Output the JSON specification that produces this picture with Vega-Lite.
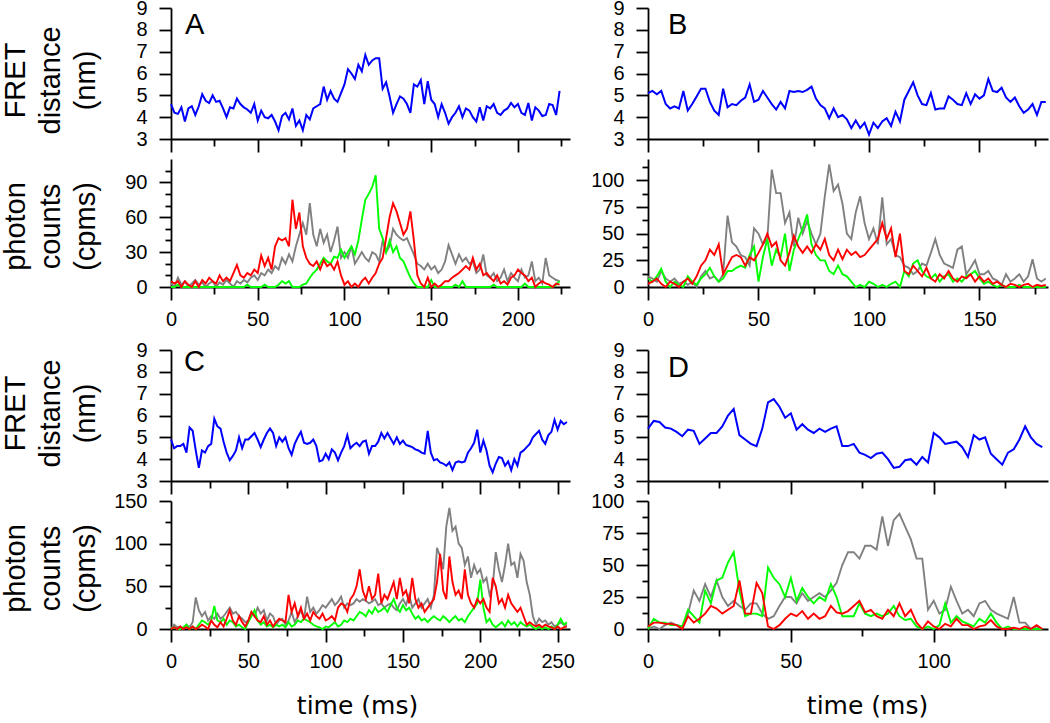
{
"$schema":"https://vega.github.io/schema/vega-lite/v6.json",
"autosize":{"type":"none"},
"padding":{"left":171,"top":8,"right":879,"bottom":715},
"columns":2,
"spacing":{"row":20,"column":78},
"bounds":"flush",
"config":{
 "view":{"stroke":null},
 "font":"Liberation Sans",
 "axis":{"grid":false,"domainColor":"black","domainWidth":1.8,"tickColor":"black","tickWidth":1.8,"labelColor":"black","labelFont":"Liberation Sans","labelFontSize":20,"labelFlush":false,"labelOverlap":false,"labelBound":false,"titleFont":"Liberation Sans","titleFontSize":29,"titleFontWeight":"normal","titleColor":"black","titleLineHeight":35},
 "title":{"font":"Liberation Sans","fontSize":29,"fontWeight":"normal","color":"black","anchor":"start","frame":"group","baseline":"alphabetic"},
 "line":{"strokeWidth":1.9,"clip":true}
},
"datasets":{
"A":[
{"t":0,"f":4.6,"r":5,"g":0,"k":3},{"t":2,"f":4.2,"r":3,"g":0,"k":0},{"t":4,"f":4.15,"r":5,"g":2,"k":8},{"t":6,"f":4.45,"r":0,"g":0,"k":2},{"t":8,"f":3.8,"r":5,"g":0,"k":5},{"t":10,"f":4.4,"r":2,"g":0,"k":0},{"t":12,"f":4.5,"r":0,"g":0,"k":3},{"t":14,"f":4.1,"r":5,"g":0,"k":6},{"t":16,"f":4.5,"r":0,"g":0,"k":2},{"t":18,"f":5.05,"r":6,"g":0,"k":4},{"t":20,"f":4.75,"r":3,"g":0,"k":0},{"t":22,"f":4.65,"r":8,"g":0,"k":3},{"t":24,"f":5.0,"r":5,"g":0,"k":5},{"t":26,"f":4.7,"r":3,"g":0,"k":0},{"t":28,"f":4.75,"r":10,"g":0,"k":4},{"t":30,"f":4.4,"r":5,"g":0,"k":2},{"t":32,"f":4.0,"r":8,"g":0,"k":6},{"t":34,"f":4.45,"r":5,"g":0,"k":3},{"t":36,"f":4.4,"r":12,"g":0,"k":0},{"t":38,"f":4.85,"r":19,"g":0,"k":5},{"t":40,"f":4.6,"r":10,"g":0,"k":3},{"t":42,"f":4.45,"r":8,"g":0,"k":6},{"t":44,"f":4.35,"r":12,"g":2,"k":4},{"t":46,"f":4.2,"r":10,"g":0,"k":8},{"t":48,"f":4.6,"r":15,"g":0,"k":10},{"t":50,"f":3.85,"r":12,"g":0,"k":6},{"t":52,"f":4.3,"r":27,"g":0,"k":12},{"t":54,"f":4.0,"r":18,"g":2,"k":10},{"t":56,"f":3.95,"r":25,"g":0,"k":15},{"t":58,"f":4.1,"r":15,"g":0,"k":12},{"t":60,"f":3.8,"r":35,"g":0,"k":18},{"t":62,"f":3.4,"r":42,"g":2,"k":15},{"t":64,"f":4.05,"r":40,"g":5,"k":25},{"t":66,"f":4.2,"r":42,"g":3,"k":20},{"t":68,"f":3.9,"r":35,"g":5,"k":28},{"t":70,"f":4.4,"r":75,"g":0,"k":22},{"t":72,"f":3.6,"r":50,"g":0,"k":35},{"t":74,"f":3.85,"r":64,"g":0,"k":45},{"t":76,"f":3.4,"r":35,"g":2,"k":55},{"t":78,"f":4.1,"r":25,"g":3,"k":45},{"t":80,"f":3.9,"r":20,"g":8,"k":72},{"t":82,"f":4.4,"r":18,"g":12,"k":45},{"t":84,"f":4.5,"r":22,"g":15,"k":35},{"t":86,"f":4.6,"r":15,"g":20,"k":50},{"t":88,"f":5.4,"r":23,"g":25,"k":38},{"t":90,"f":4.8,"r":18,"g":22,"k":45},{"t":92,"f":5.2,"r":20,"g":20,"k":30},{"t":94,"f":4.85,"r":15,"g":26,"k":40},{"t":96,"f":4.7,"r":22,"g":25,"k":52},{"t":98,"f":5.1,"r":10,"g":32,"k":25},{"t":100,"f":5.5,"r":2,"g":25,"k":30},{"t":102,"f":6.2,"r":5,"g":30,"k":25},{"t":104,"f":6.0,"r":0,"g":35,"k":35},{"t":106,"f":5.75,"r":3,"g":28,"k":20},{"t":108,"f":6.4,"r":0,"g":40,"k":25},{"t":110,"f":6.1,"r":5,"g":58,"k":30},{"t":112,"f":6.85,"r":8,"g":75,"k":25},{"t":114,"f":6.4,"r":3,"g":80,"k":22},{"t":116,"f":6.6,"r":8,"g":86,"k":30},{"t":118,"f":6.7,"r":12,"g":96,"k":28},{"t":120,"f":6.7,"r":20,"g":50,"k":22},{"t":122,"f":5.3,"r":25,"g":42,"k":40},{"t":124,"f":5.6,"r":42,"g":30,"k":30},{"t":126,"f":4.95,"r":60,"g":40,"k":35},{"t":128,"f":4.2,"r":72,"g":30,"k":50},{"t":130,"f":4.6,"r":65,"g":35,"k":45},{"t":132,"f":4.95,"r":55,"g":25,"k":42},{"t":134,"f":4.85,"r":45,"g":22,"k":40},{"t":136,"f":4.6,"r":50,"g":15,"k":42},{"t":138,"f":4.2,"r":65,"g":8,"k":35},{"t":140,"f":5.5,"r":40,"g":3,"k":28},{"t":142,"f":5.4,"r":10,"g":0,"k":20},{"t":144,"f":5.7,"r":3,"g":0,"k":18},{"t":146,"f":4.6,"r":0,"g":0,"k":15},{"t":148,"f":5.65,"r":8,"g":0,"k":20},{"t":150,"f":4.8,"r":0,"g":6,"k":15},{"t":152,"f":4.6,"r":3,"g":0,"k":18},{"t":154,"f":4.0,"r":0,"g":0,"k":12},{"t":156,"f":4.6,"r":2,"g":0,"k":15},{"t":158,"f":4.2,"r":5,"g":0,"k":22},{"t":160,"f":3.7,"r":5,"g":0,"k":36},{"t":162,"f":4.0,"r":8,"g":0,"k":28},{"t":164,"f":4.2,"r":10,"g":2,"k":20},{"t":166,"f":4.5,"r":12,"g":0,"k":28},{"t":168,"f":4.0,"r":15,"g":5,"k":22},{"t":170,"f":4.4,"r":18,"g":0,"k":25},{"t":172,"f":4.3,"r":15,"g":0,"k":20},{"t":174,"f":4.0,"r":25,"g":0,"k":22},{"t":176,"f":3.8,"r":15,"g":0,"k":12},{"t":178,"f":4.45,"r":20,"g":0,"k":15},{"t":180,"f":3.85,"r":10,"g":0,"k":28},{"t":182,"f":4.5,"r":12,"g":0,"k":10},{"t":184,"f":4.4,"r":8,"g":0,"k":8},{"t":186,"f":4.6,"r":5,"g":2,"k":12},{"t":188,"f":4.2,"r":10,"g":0,"k":5},{"t":190,"f":4.1,"r":3,"g":0,"k":8},{"t":192,"f":4.3,"r":5,"g":0,"k":15},{"t":194,"f":4.4,"r":2,"g":0,"k":5},{"t":196,"f":4.65,"r":8,"g":0,"k":12},{"t":198,"f":4.45,"r":10,"g":0,"k":8},{"t":200,"f":4.6,"r":15,"g":0,"k":5},{"t":202,"f":4.2,"r":12,"g":0,"k":15},{"t":204,"f":4.1,"r":10,"g":3,"k":8},{"t":206,"f":4.65,"r":5,"g":0,"k":10},{"t":208,"f":3.85,"r":8,"g":0,"k":22},{"t":210,"f":4.45,"r":0,"g":0,"k":5},{"t":212,"f":4.3,"r":3,"g":0,"k":8},{"t":214,"f":4.05,"r":5,"g":0,"k":3},{"t":216,"f":4.1,"r":3,"g":0,"k":25},{"t":218,"f":4.6,"r":2,"g":0,"k":10},{"t":220,"f":4.55,"r":0,"g":0,"k":8},{"t":222,"f":4.1,"r":3,"g":2,"k":6},{"t":224,"f":5.2,"r":2,"g":5,"k":5}
],
"B":[
{"t":0,"f":5.1,"r":3,"g":8,"k":10},{"t":2,"f":5.2,"r":5,"g":5,"k":8},{"t":4,"f":5.05,"r":8,"g":10,"k":5},{"t":6,"f":5.2,"r":3,"g":17,"k":15},{"t":8,"f":4.6,"r":0,"g":5,"k":8},{"t":10,"f":4.4,"r":5,"g":0,"k":5},{"t":12,"f":4.5,"r":3,"g":5,"k":8},{"t":14,"f":4.4,"r":0,"g":2,"k":3},{"t":16,"f":5.2,"r":5,"g":0,"k":5},{"t":18,"f":4.3,"r":8,"g":10,"k":2},{"t":20,"f":4.6,"r":3,"g":5,"k":5},{"t":22,"f":4.95,"r":10,"g":2,"k":0},{"t":24,"f":5.3,"r":20,"g":8,"k":10},{"t":26,"f":5.3,"r":25,"g":12,"k":15},{"t":28,"f":4.7,"r":35,"g":18,"k":8},{"t":30,"f":4.3,"r":30,"g":10,"k":10},{"t":32,"f":4.1,"r":40,"g":5,"k":5},{"t":34,"f":5.3,"r":12,"g":8,"k":12},{"t":36,"f":4.45,"r":20,"g":15,"k":67},{"t":38,"f":4.6,"r":28,"g":15,"k":42},{"t":40,"f":4.55,"r":30,"g":18,"k":38},{"t":42,"f":4.75,"r":28,"g":20,"k":30},{"t":44,"f":4.9,"r":20,"g":18,"k":28},{"t":46,"f":5.5,"r":28,"g":30,"k":20},{"t":48,"f":4.7,"r":25,"g":38,"k":55},{"t":50,"f":4.8,"r":32,"g":5,"k":50},{"t":52,"f":5.2,"r":40,"g":28,"k":40},{"t":54,"f":4.9,"r":50,"g":45,"k":45},{"t":56,"f":4.6,"r":38,"g":20,"k":110},{"t":58,"f":4.35,"r":42,"g":35,"k":88},{"t":60,"f":4.7,"r":25,"g":28,"k":88},{"t":62,"f":4.4,"r":20,"g":50,"k":60},{"t":64,"f":5.2,"r":32,"g":15,"k":70},{"t":66,"f":5.15,"r":48,"g":35,"k":38},{"t":68,"f":5.2,"r":38,"g":45,"k":65},{"t":70,"f":5.15,"r":32,"g":55,"k":50},{"t":72,"f":5.25,"r":38,"g":68,"k":62},{"t":74,"f":5.4,"r":32,"g":40,"k":50},{"t":76,"f":4.85,"r":40,"g":30,"k":40},{"t":78,"f":4.55,"r":35,"g":25,"k":50},{"t":80,"f":4.4,"r":45,"g":25,"k":85},{"t":82,"f":3.95,"r":30,"g":15,"k":115},{"t":84,"f":4.4,"r":25,"g":12,"k":90},{"t":86,"f":4.0,"r":35,"g":20,"k":96},{"t":88,"f":4.1,"r":26,"g":12,"k":78},{"t":90,"f":3.9,"r":35,"g":10,"k":50},{"t":92,"f":3.5,"r":30,"g":5,"k":45},{"t":94,"f":3.85,"r":33,"g":0,"k":70},{"t":96,"f":3.5,"r":28,"g":2,"k":85},{"t":98,"f":3.75,"r":30,"g":0,"k":60},{"t":100,"f":3.2,"r":35,"g":5,"k":45},{"t":102,"f":3.75,"r":40,"g":3,"k":55},{"t":104,"f":3.5,"r":45,"g":0,"k":40},{"t":106,"f":3.8,"r":60,"g":2,"k":84},{"t":108,"f":3.95,"r":45,"g":0,"k":40},{"t":110,"f":3.6,"r":55,"g":3,"k":45},{"t":112,"f":4.25,"r":28,"g":5,"k":30},{"t":114,"f":3.8,"r":50,"g":0,"k":28},{"t":116,"f":4.8,"r":15,"g":15,"k":20},{"t":118,"f":5.2,"r":12,"g":10,"k":18},{"t":120,"f":5.6,"r":20,"g":22,"k":12},{"t":122,"f":5.0,"r":15,"g":25,"k":15},{"t":124,"f":4.6,"r":10,"g":15,"k":22},{"t":126,"f":4.55,"r":18,"g":10,"k":20},{"t":128,"f":5.1,"r":8,"g":8,"k":32},{"t":130,"f":4.35,"r":5,"g":12,"k":45},{"t":132,"f":4.4,"r":12,"g":5,"k":30},{"t":134,"f":4.4,"r":8,"g":10,"k":22},{"t":136,"f":4.95,"r":15,"g":12,"k":20},{"t":138,"f":4.8,"r":8,"g":5,"k":18},{"t":140,"f":4.6,"r":5,"g":8,"k":35},{"t":142,"f":4.55,"r":10,"g":5,"k":38},{"t":144,"f":5.1,"r":8,"g":10,"k":12},{"t":146,"f":4.6,"r":12,"g":12,"k":18},{"t":148,"f":5.05,"r":5,"g":15,"k":25},{"t":150,"f":4.85,"r":10,"g":8,"k":12},{"t":152,"f":5.0,"r":5,"g":3,"k":12},{"t":154,"f":5.75,"r":8,"g":5,"k":15},{"t":156,"f":5.2,"r":3,"g":2,"k":8},{"t":158,"f":5.15,"r":5,"g":0,"k":6},{"t":160,"f":5.35,"r":2,"g":2,"k":2},{"t":162,"f":4.9,"r":0,"g":0,"k":12},{"t":164,"f":4.7,"r":3,"g":0,"k":5},{"t":166,"f":4.9,"r":2,"g":0,"k":8},{"t":168,"f":4.5,"r":0,"g":2,"k":12},{"t":170,"f":4.2,"r":2,"g":0,"k":5},{"t":172,"f":4.35,"r":3,"g":0,"k":10},{"t":174,"f":4.6,"r":0,"g":0,"k":26},{"t":176,"f":4.1,"r":2,"g":0,"k":8},{"t":178,"f":4.7,"r":1,"g":0,"k":5},{"t":180,"f":4.7,"r":2,"g":0,"k":8}
],
"C":[
{"t":0,"f":4.9,"r":0,"g":0,"k":0},{"t":2,"f":4.5,"r":2,"g":2,"k":5},{"t":4,"f":4.6,"r":0,"g":0,"k":2},{"t":6,"f":4.6,"r":3,"g":0,"k":3},{"t":8,"f":4.7,"r":0,"g":2,"k":0},{"t":10,"f":4.3,"r":2,"g":5,"k":5},{"t":12,"f":5.45,"r":0,"g":0,"k":2},{"t":14,"f":5.3,"r":3,"g":3,"k":8},{"t":16,"f":4.4,"r":0,"g":0,"k":37},{"t":18,"f":3.6,"r":2,"g":5,"k":22},{"t":20,"f":4.4,"r":5,"g":10,"k":15},{"t":22,"f":4.3,"r":3,"g":8,"k":20},{"t":24,"f":4.6,"r":0,"g":5,"k":10},{"t":26,"f":4.7,"r":10,"g":10,"k":15},{"t":28,"f":5.85,"r":5,"g":27,"k":12},{"t":30,"f":5.5,"r":2,"g":10,"k":18},{"t":32,"f":5.4,"r":8,"g":8,"k":12},{"t":34,"f":4.8,"r":3,"g":12,"k":15},{"t":36,"f":4.3,"r":12,"g":5,"k":20},{"t":38,"f":3.95,"r":22,"g":10,"k":25},{"t":40,"f":4.15,"r":10,"g":8,"k":18},{"t":42,"f":4.4,"r":5,"g":3,"k":20},{"t":44,"f":5.0,"r":15,"g":5,"k":15},{"t":46,"f":4.5,"r":8,"g":2,"k":12},{"t":48,"f":4.9,"r":3,"g":0,"k":8},{"t":50,"f":4.9,"r":10,"g":8,"k":10},{"t":52,"f":5.05,"r":20,"g":15,"k":20},{"t":54,"f":5.2,"r":15,"g":22,"k":15},{"t":56,"f":4.9,"r":10,"g":10,"k":25},{"t":58,"f":4.55,"r":8,"g":5,"k":18},{"t":60,"f":4.9,"r":15,"g":8,"k":22},{"t":62,"f":5.2,"r":5,"g":3,"k":10},{"t":64,"f":5.4,"r":10,"g":5,"k":18},{"t":66,"f":5.2,"r":3,"g":2,"k":15},{"t":68,"f":4.6,"r":8,"g":5,"k":5},{"t":70,"f":5.0,"r":12,"g":3,"k":10},{"t":72,"f":4.8,"r":10,"g":5,"k":12},{"t":74,"f":5.0,"r":8,"g":2,"k":5},{"t":76,"f":4.5,"r":40,"g":8,"k":10},{"t":78,"f":4.2,"r":20,"g":3,"k":20},{"t":80,"f":4.7,"r":30,"g":5,"k":8},{"t":82,"f":5.0,"r":15,"g":10,"k":15},{"t":84,"f":5.25,"r":25,"g":8,"k":22},{"t":86,"f":4.75,"r":12,"g":12,"k":12},{"t":88,"f":4.7,"r":18,"g":10,"k":38},{"t":90,"f":4.75,"r":10,"g":8,"k":20},{"t":92,"f":4.9,"r":20,"g":5,"k":25},{"t":94,"f":4.6,"r":15,"g":3,"k":18},{"t":96,"f":3.9,"r":12,"g":2,"k":22},{"t":98,"f":3.95,"r":18,"g":0,"k":28},{"t":100,"f":4.25,"r":10,"g":3,"k":25},{"t":102,"f":4.0,"r":12,"g":2,"k":30},{"t":104,"f":4.45,"r":15,"g":5,"k":35},{"t":106,"f":4.3,"r":10,"g":8,"k":28},{"t":108,"f":3.95,"r":25,"g":3,"k":32},{"t":110,"f":4.3,"r":30,"g":5,"k":38},{"t":112,"f":4.6,"r":28,"g":10,"k":25},{"t":114,"f":5.1,"r":20,"g":8,"k":30},{"t":116,"f":4.5,"r":35,"g":12,"k":28},{"t":118,"f":4.65,"r":40,"g":10,"k":30},{"t":120,"f":4.75,"r":50,"g":15,"k":35},{"t":122,"f":4.6,"r":70,"g":20,"k":32},{"t":124,"f":4.8,"r":45,"g":18,"k":35},{"t":126,"f":4.85,"r":35,"g":15,"k":33},{"t":128,"f":4.25,"r":50,"g":22,"k":30},{"t":130,"f":4.6,"r":35,"g":18,"k":32},{"t":132,"f":4.6,"r":40,"g":25,"k":35},{"t":134,"f":4.8,"r":65,"g":20,"k":28},{"t":136,"f":5.2,"r":30,"g":22,"k":30},{"t":138,"f":4.95,"r":40,"g":25,"k":25},{"t":140,"f":5.2,"r":35,"g":20,"k":28},{"t":142,"f":4.95,"r":45,"g":28,"k":30},{"t":144,"f":4.7,"r":55,"g":35,"k":25},{"t":146,"f":5.0,"r":35,"g":25,"k":22},{"t":148,"f":4.7,"r":60,"g":20,"k":30},{"t":150,"f":4.85,"r":40,"g":28,"k":35},{"t":152,"f":4.65,"r":45,"g":22,"k":28},{"t":154,"f":4.6,"r":30,"g":25,"k":40},{"t":156,"f":4.55,"r":60,"g":18,"k":25},{"t":158,"f":4.45,"r":35,"g":12,"k":30},{"t":160,"f":4.4,"r":25,"g":15,"k":35},{"t":162,"f":4.3,"r":30,"g":10,"k":25},{"t":164,"f":4.25,"r":20,"g":12,"k":30},{"t":166,"f":5.3,"r":25,"g":8,"k":35},{"t":168,"f":4.3,"r":30,"g":12,"k":25},{"t":170,"f":3.95,"r":35,"g":15,"k":40},{"t":172,"f":4.0,"r":55,"g":12,"k":95},{"t":174,"f":3.85,"r":88,"g":10,"k":85},{"t":176,"f":3.8,"r":45,"g":15,"k":70},{"t":178,"f":3.7,"r":35,"g":12,"k":120},{"t":180,"f":3.85,"r":85,"g":8,"k":142},{"t":182,"f":3.5,"r":55,"g":12,"k":115},{"t":184,"f":3.85,"r":40,"g":15,"k":120},{"t":186,"f":3.9,"r":45,"g":10,"k":100},{"t":188,"f":3.85,"r":35,"g":12,"k":95},{"t":190,"f":3.9,"r":70,"g":8,"k":75},{"t":192,"f":4.3,"r":40,"g":15,"k":85},{"t":194,"f":4.5,"r":30,"g":20,"k":60},{"t":196,"f":4.75,"r":25,"g":25,"k":75},{"t":198,"f":5.35,"r":35,"g":30,"k":65},{"t":200,"f":4.3,"r":30,"g":58,"k":70},{"t":202,"f":4.85,"r":35,"g":25,"k":55},{"t":204,"f":4.4,"r":25,"g":8,"k":60},{"t":206,"f":3.7,"r":20,"g":12,"k":40},{"t":208,"f":3.4,"r":60,"g":5,"k":50},{"t":210,"f":3.8,"r":50,"g":2,"k":90},{"t":212,"f":4.1,"r":30,"g":5,"k":70},{"t":214,"f":4.05,"r":35,"g":8,"k":55},{"t":216,"f":3.7,"r":25,"g":3,"k":75},{"t":218,"f":3.9,"r":40,"g":10,"k":100},{"t":220,"f":3.5,"r":30,"g":5,"k":75},{"t":222,"f":4.0,"r":25,"g":8,"k":78},{"t":224,"f":3.7,"r":20,"g":3,"k":60},{"t":226,"f":4.3,"r":25,"g":8,"k":88},{"t":228,"f":4.4,"r":15,"g":5,"k":80},{"t":230,"f":4.55,"r":5,"g":3,"k":55},{"t":232,"f":4.7,"r":8,"g":5,"k":40},{"t":234,"f":5.0,"r":5,"g":2,"k":15},{"t":236,"f":5.15,"r":3,"g":0,"k":5},{"t":238,"f":5.3,"r":5,"g":3,"k":12},{"t":240,"f":4.9,"r":2,"g":0,"k":8},{"t":242,"f":4.7,"r":5,"g":2,"k":10},{"t":244,"f":5.1,"r":3,"g":0,"k":5},{"t":246,"f":5.25,"r":2,"g":3,"k":8},{"t":248,"f":5.8,"r":0,"g":0,"k":3},{"t":250,"f":5.35,"r":3,"g":5,"k":5},{"t":252,"f":5.75,"r":0,"g":12,"k":8},{"t":254,"f":5.6,"r":2,"g":5,"k":5},{"t":256,"f":5.7,"r":3,"g":8,"k":5}
],
"D":[
{"t":0,"f":5.4,"r":2,"g":0,"k":0},{"t":2,"f":5.75,"r":5,"g":8,"k":2},{"t":4,"f":5.7,"r":5,"g":5,"k":0},{"t":6,"f":5.45,"r":4,"g":5,"k":3},{"t":8,"f":5.4,"r":4,"g":3,"k":5},{"t":10,"f":5.25,"r":3,"g":3,"k":3},{"t":12,"f":5.05,"r":0,"g":2,"k":2},{"t":14,"f":5.35,"r":10,"g":15,"k":12},{"t":16,"f":5.3,"r":5,"g":10,"k":30},{"t":18,"f":4.7,"r":8,"g":5,"k":22},{"t":20,"f":4.95,"r":12,"g":30,"k":35},{"t":22,"f":5.2,"r":18,"g":20,"k":25},{"t":24,"f":5.2,"r":16,"g":38,"k":38},{"t":26,"f":5.5,"r":12,"g":40,"k":25},{"t":28,"f":6.0,"r":15,"g":52,"k":18},{"t":30,"f":6.3,"r":18,"g":60,"k":22},{"t":32,"f":5.1,"r":38,"g":30,"k":18},{"t":34,"f":4.9,"r":12,"g":10,"k":15},{"t":36,"f":4.7,"r":12,"g":12,"k":20},{"t":38,"f":4.6,"r":36,"g":12,"k":20},{"t":40,"f":5.4,"r":28,"g":10,"k":12},{"t":42,"f":6.6,"r":2,"g":48,"k":8},{"t":44,"f":6.75,"r":0,"g":40,"k":10},{"t":46,"f":6.4,"r":3,"g":35,"k":18},{"t":48,"f":5.9,"r":8,"g":25,"k":25},{"t":50,"f":6.1,"r":12,"g":40,"k":25},{"t":52,"f":5.35,"r":10,"g":22,"k":20},{"t":54,"f":5.6,"r":14,"g":32,"k":28},{"t":56,"f":5.35,"r":8,"g":25,"k":22},{"t":58,"f":5.2,"r":12,"g":20,"k":25},{"t":60,"f":5.4,"r":8,"g":25,"k":28},{"t":62,"f":5.25,"r":10,"g":22,"k":25},{"t":64,"f":5.4,"r":18,"g":35,"k":30},{"t":66,"f":5.5,"r":13,"g":25,"k":36},{"t":68,"f":4.6,"r":12,"g":10,"k":50},{"t":70,"f":4.6,"r":14,"g":10,"k":60},{"t":72,"f":4.7,"r":18,"g":10,"k":60},{"t":74,"f":4.3,"r":22,"g":20,"k":55},{"t":76,"f":4.2,"r":13,"g":12,"k":65},{"t":78,"f":4.05,"r":15,"g":10,"k":65},{"t":80,"f":4.25,"r":10,"g":12,"k":62},{"t":82,"f":4.3,"r":8,"g":10,"k":88},{"t":84,"f":4.0,"r":15,"g":12,"k":65},{"t":86,"f":3.6,"r":10,"g":18,"k":85},{"t":88,"f":3.65,"r":20,"g":10,"k":90},{"t":90,"f":3.95,"r":10,"g":7,"k":80},{"t":92,"f":4.0,"r":15,"g":8,"k":70},{"t":94,"f":3.75,"r":5,"g":2,"k":55},{"t":96,"f":4.1,"r":0,"g":0,"k":55},{"t":98,"f":3.85,"r":6,"g":2,"k":15},{"t":100,"f":5.2,"r":2,"g":0,"k":22},{"t":102,"f":5.0,"r":0,"g":3,"k":12},{"t":104,"f":4.7,"r":4,"g":20,"k":15},{"t":106,"f":4.75,"r":2,"g":5,"k":33},{"t":108,"f":4.8,"r":8,"g":10,"k":22},{"t":110,"f":4.55,"r":3,"g":6,"k":12},{"t":112,"f":4.1,"r":3,"g":4,"k":15},{"t":114,"f":5.1,"r":0,"g":2,"k":10},{"t":116,"f":4.9,"r":2,"g":8,"k":20},{"t":118,"f":5.0,"r":3,"g":5,"k":22},{"t":120,"f":4.25,"r":7,"g":12,"k":15},{"t":122,"f":4.0,"r":2,"g":5,"k":12},{"t":124,"f":3.75,"r":0,"g":0,"k":10},{"t":126,"f":4.3,"r":0,"g":2,"k":8},{"t":128,"f":4.45,"r":1,"g":0,"k":25},{"t":130,"f":4.9,"r":0,"g":0,"k":5},{"t":132,"f":5.5,"r":2,"g":0,"k":5},{"t":134,"f":5.0,"r":0,"g":0,"k":0},{"t":136,"f":4.7,"r":3,"g":0,"k":2},{"t":138,"f":4.55,"r":0,"g":0,"k":0}
]
},
"concat":[
{
 "width":399,"height":131,"data":{"name":"A"},
 "title":{"text":"A","offset":-42,"dx":14},
 "mark":{"type":"line","color":"#0000ff","strokeWidth":2},
 "encoding":{
  "x":{"field":"t","type":"quantitative","scale":{"domain":[0,230],"nice":false,"zero":false},"axis":{"values":[0,25,50,75,100,125,150,175,200,225],"labels":false,"title":null,"tickSize":{"condition":{"test":"datum.value % 50 === 0","value":13},"value":7}}},
  "y":{"field":"f","type":"quantitative","scale":{"domain":[3,9],"nice":false,"zero":false},"axis":{"values":[3,4,5,6,7,8,9],"tickSize":12,"labelPadding":12,"title":["FRET","distance","(nm)"],"titleX":-141,"titleY":72,"titleBaseline":"bottom"}}
 }
},
{
 "width":400,"height":131,"data":{"name":"B"},
 "title":{"text":"B","offset":-42,"dx":20},
 "mark":{"type":"line","color":"#0000ff","strokeWidth":2},
 "encoding":{
  "x":{"field":"t","type":"quantitative","scale":{"domain":[0,181],"nice":false,"zero":false},"axis":{"values":[0,25,50,75,100,125,150,175],"labels":false,"title":null,"tickSize":{"condition":{"test":"datum.value % 50 === 0","value":13},"value":7}}},
  "y":{"field":"f","type":"quantitative","scale":{"domain":[3,9],"nice":false,"zero":false},"axis":{"values":[3,4,5,6,7,8,9],"tickSize":12,"labelPadding":12,"title":null}}
 }
},
{
 "width":399,"height":128,"data":{"name":"A"},
 "transform":[{"fold":["k","g","r"],"as":["ch","v"]}],
 "mark":{"type":"line"},
 "encoding":{
  "x":{"field":"t","type":"quantitative","scale":{"domain":[0,230],"nice":false,"zero":false},"axis":{"values":[0,25,50,75,100,125,150,175,200,225],"labelExpr":"datum.value % 50 === 0 ? datum.label : ''","labelPadding":9,"title":null,"tickSize":{"condition":{"test":"datum.value % 50 === 0","value":13},"value":7}}},
  "y":{"field":"v","type":"quantitative","scale":{"domain":[0,110],"nice":false},"axis":{"values":[0,10,20,30,40,50,60,70,80,90,100],"labelExpr":"datum.value % 30 === 0 ? datum.label : ''","labelPadding":12,"tickSize":{"condition":{"test":"datum.value % 30 === 0","value":12},"value":6},"title":["photon","counts","(cpms)"],"titleX":-141,"titleY":67,"titleBaseline":"bottom"}},
  "color":{"field":"ch","type":"nominal","scale":{"domain":["k","g","r"],"range":["#808080","#00ff00","#ff0000"]},"legend":null}
 }
},
{
 "width":400,"height":128,"data":{"name":"B"},
 "transform":[{"fold":["k","g","r"],"as":["ch","v"]}],
 "mark":{"type":"line"},
 "encoding":{
  "x":{"field":"t","type":"quantitative","scale":{"domain":[0,181],"nice":false,"zero":false},"axis":{"values":[0,25,50,75,100,125,150,175],"labelExpr":"datum.value % 50 === 0 ? datum.label : ''","labelPadding":9,"title":null,"tickSize":{"condition":{"test":"datum.value % 50 === 0","value":13},"value":7}}},
  "y":{"field":"v","type":"quantitative","scale":{"domain":[0,120],"nice":false},"axis":{"values":[0,12.5,25,37.5,50,62.5,75,87.5,100,112.5],"labelExpr":"datum.value % 25 === 0 ? datum.label : ''","labelPadding":12,"tickSize":{"condition":{"test":"datum.value % 25 === 0","value":12},"value":6},"title":null}},
  "color":{"field":"ch","type":"nominal","scale":{"domain":["k","g","r"],"range":["#808080","#00ff00","#ff0000"]},"legend":null}
 }
},
{"width":399,"height":23,"data":{"values":[]},"mark":"point","encoding":{}},
{"width":400,"height":23,"data":{"values":[]},"mark":"point","encoding":{}},
{
 "width":399,"height":131,"data":{"name":"C"},
 "title":{"text":"C","offset":-37,"dx":13},
 "mark":{"type":"line","color":"#0000ff","strokeWidth":2},
 "encoding":{
  "x":{"field":"t","type":"quantitative","scale":{"domain":[0,258],"nice":false,"zero":false},"axis":{"values":[0,25,50,75,100,125,150,175,200,225,250],"labels":false,"title":null,"tickSize":{"condition":{"test":"datum.value % 50 === 0","value":13},"value":7}}},
  "y":{"field":"f","type":"quantitative","scale":{"domain":[3,9],"nice":false,"zero":false},"axis":{"values":[3,4,5,6,7,8,9],"tickSize":12,"labelPadding":12,"title":["FRET","distance","(nm)"],"titleX":-141,"titleY":63,"titleBaseline":"bottom"}}
 }
},
{
 "width":400,"height":131,"data":{"name":"D"},
 "title":{"text":"D","offset":-43,"dx":20},
 "mark":{"type":"line","color":"#0000ff","strokeWidth":2},
 "encoding":{
  "x":{"field":"t","type":"quantitative","scale":{"domain":[0,140],"nice":false,"zero":false},"axis":{"values":[0,25,50,75,100,125],"labels":false,"title":null,"tickSize":{"condition":{"test":"datum.value % 50 === 0","value":13},"value":7}}},
  "y":{"field":"f","type":"quantitative","scale":{"domain":[3,9],"nice":false,"zero":false},"axis":{"values":[3,4,5,6,7,8,9],"tickSize":12,"labelPadding":12,"title":null}}
 }
},
{
 "width":399,"height":128,"data":{"name":"C"},
 "transform":[{"fold":["k","g","r"],"as":["ch","v"]}],
 "mark":{"type":"line"},
 "encoding":{
  "x":{"field":"t","type":"quantitative","scale":{"domain":[0,258],"nice":false,"zero":false},"axis":{"values":[0,25,50,75,100,125,150,175,200,225,250],"labelExpr":"datum.value % 50 === 0 ? datum.label : ''","labelPadding":9,"title":"time (ms)","titleFont":"DejaVu Sans","titleFontSize":25,"titleX":186,"titleY":84,"titleBaseline":"alphabetic","tickSize":{"condition":{"test":"datum.value % 50 === 0","value":13},"value":7}}},
  "y":{"field":"v","type":"quantitative","scale":{"domain":[0,150],"nice":false},"axis":{"values":[0,25,50,75,100,125,150],"labelExpr":"datum.value % 50 === 0 ? datum.label : ''","labelPadding":12,"tickSize":{"condition":{"test":"datum.value % 50 === 0","value":12},"value":6},"title":["photon","counts","(cpms)"],"titleX":-141,"titleY":67,"titleBaseline":"bottom"}},
  "color":{"field":"ch","type":"nominal","scale":{"domain":["k","g","r"],"range":["#808080","#00ff00","#ff0000"]},"legend":null}
 }
},
{
 "width":400,"height":128,"data":{"name":"D"},
 "transform":[{"fold":["k","g","r"],"as":["ch","v"]}],
 "mark":{"type":"line"},
 "encoding":{
  "x":{"field":"t","type":"quantitative","scale":{"domain":[0,140],"nice":false,"zero":false},"axis":{"values":[0,25,50,75,100,125],"labelExpr":"datum.value % 50 === 0 ? datum.label : ''","labelPadding":9,"title":"time (ms)","titleFont":"DejaVu Sans","titleFontSize":25,"titleX":219,"titleY":84,"titleBaseline":"alphabetic","tickSize":{"condition":{"test":"datum.value % 50 === 0","value":13},"value":7}}},
  "y":{"field":"v","type":"quantitative","scale":{"domain":[0,100],"nice":false},"axis":{"values":[0,12.5,25,37.5,50,62.5,75,87.5,100],"labelExpr":"datum.value % 25 === 0 ? datum.label : ''","labelPadding":12,"tickSize":{"condition":{"test":"datum.value % 25 === 0","value":12},"value":6},"title":null}},
  "color":{"field":"ch","type":"nominal","scale":{"domain":["k","g","r"],"range":["#808080","#00ff00","#ff0000"]},"legend":null}
 }
}
]
}
